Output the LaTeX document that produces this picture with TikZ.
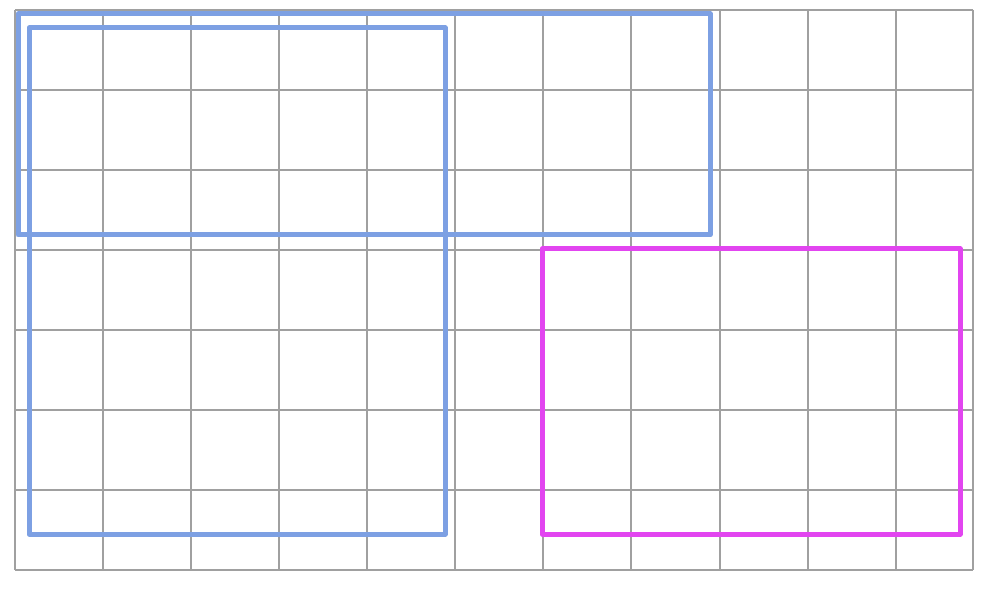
\documentclass[tikz,border=0pt]{standalone}
\begin{document}
\begin{tikzpicture}[x=1pt,y=-1pt,
  gridline/.style={draw=gridgray,line width=1.8pt},
  bluebox/.style={draw=boxblue,line width=5pt,line join=round},
  pinkbox/.style={draw=boxpink,line width=5pt,line join=round}]
\definecolor{gridgray}{HTML}{A0A0A0}
\definecolor{boxblue}{HTML}{7DA0E3}
\definecolor{boxpink}{HTML}{E245F0}
\useasboundingbox[fill=white] (0,0) rectangle (988,593);
\foreach \x in {15,103,191,279,367,455,543,631,720,808,896,973}
  \draw[gridline] (\x,10) -- (\x,570);
\foreach \y in {10,90,170,250,330,410,490,570}
  \draw[gridline] (15,\y) -- (973,\y);
\draw[bluebox] (18,14) rectangle (710,235);
\draw[bluebox] (29,28) rectangle (445,534);
\draw[pinkbox] (542,249) rectangle (960,534);
\end{tikzpicture}
\end{document}
